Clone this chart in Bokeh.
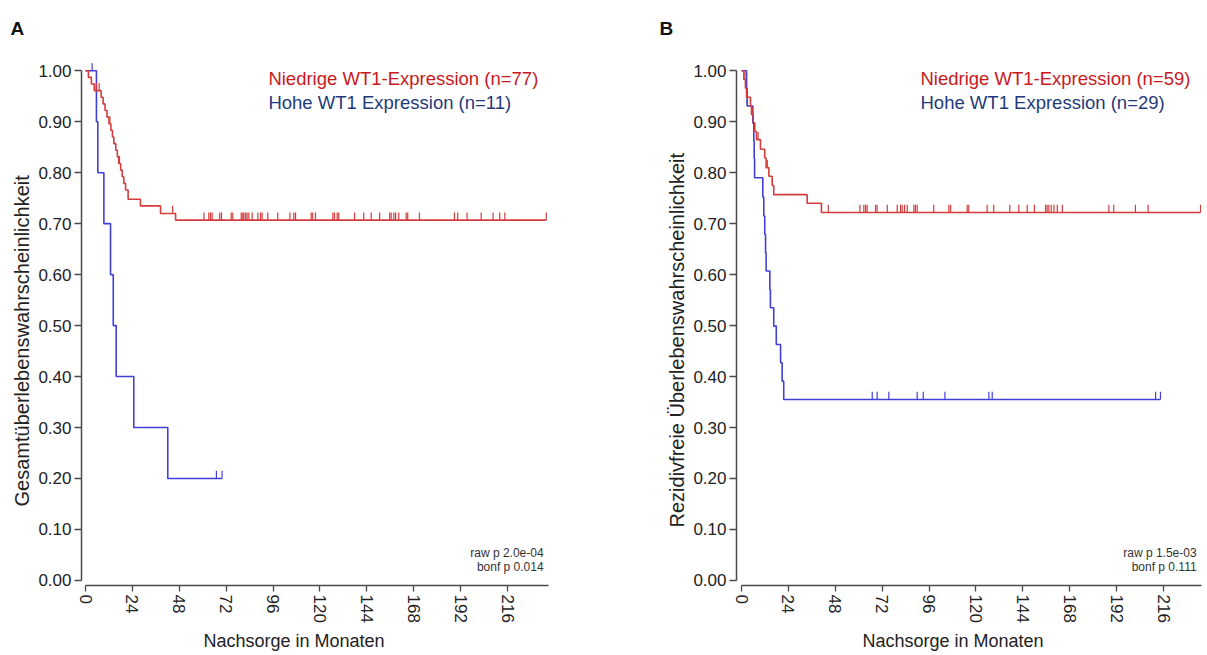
import numpy as np
from bokeh.plotting import figure
from bokeh.layouts import row
from bokeh.models import FixedTicker, PrintfTickFormatter, Label, Range1d, Title
from bokeh.embed import file_html
from bokeh.resources import INLINE

# ---------------- Panel A : Gesamtüberleben ----------------
a_low_times = [1.5, 3.0, 4.5, 8.0, 9.0, 10.0, 11.0, 12.0, 13.0, 13.8, 14.5,
               15.5, 16.3, 17.0, 18.0, 18.8, 19.6, 20.5, 21.8, 28.1, 38.4, 46.1]
a_low_surv = [0.987, 0.974, 0.961, 0.948, 0.935, 0.922, 0.909, 0.896, 0.883,
              0.870, 0.857, 0.844, 0.831, 0.818, 0.805, 0.792, 0.779, 0.766,
              0.748, 0.735, 0.720, 0.707]
a_low_censor = [5.5, 7.0, 12.5, 17.4, 44.6,
                60.6, 63.1, 64.0, 64.8, 68.7, 69.6, 74.6, 75.4, 79.7, 80.5,
                81.0, 81.9, 82.7, 83.6, 85.3, 88.2, 89.6, 90.4, 93.3, 98.4,
                104.6, 106.6, 107.5, 115.5, 116.3, 117.7, 126.6, 127.4, 128.8,
                129.6, 137.7, 142.4, 146.2, 150.5, 155.7, 156.4, 157.8, 158.7,
                160.3, 164.1, 164.9, 170.9, 188.8, 190.5, 195.3, 202.5, 208.6,
                212.0, 214.6, 235.8]
a_high_times = [5.6, 6.3, 9.4, 12.8, 14.2, 15.7, 24.7, 42.1]
a_high_surv = [0.9, 0.8, 0.7, 0.6, 0.5, 0.4, 0.3, 0.2]
a_high_censor = [3.4, 67.0, 69.9]

# ---------------- Panel B : Rezidivfreies Überleben ----------------
b_low_times = [1.2, 2.0, 2.6, 4.6, 5.1, 6.0, 6.8, 7.7, 9.7, 11.9, 12.6, 14.0,
               15.7, 16.5, 33.6, 40.9]
b_low_surv = [0.983, 0.966, 0.948, 0.931, 0.914, 0.898, 0.881, 0.865, 0.846,
              0.829, 0.810, 0.793, 0.775, 0.757, 0.740, 0.722]
b_low_censor = [1.8, 5.5, 8.5, 13.2,
                44.4, 60.6, 62.6, 63.5, 64.3, 68.6, 69.4, 74.6, 79.7, 81.4,
                82.2, 83.4, 84.8, 88.2, 89.0, 89.9, 98.4, 106.1, 107.0, 115.5,
                116.3, 125.7, 129.1, 137.3, 141.9, 146.2, 149.9, 155.6, 156.4,
                157.3, 158.5, 159.9, 161.6, 164.2, 188.0, 190.5, 201.6, 208.1,
                234.9]
b_high_times = [2.6, 2.9, 5.8, 6.3, 6.5, 6.7, 10.9, 11.4, 11.9, 12.3, 12.6,
                14.5, 14.8, 16.5, 17.8, 20.0, 20.8, 21.6]
b_high_surv = [0.966, 0.931, 0.897, 0.862, 0.828, 0.790, 0.752, 0.715, 0.679,
               0.643, 0.607, 0.571, 0.535, 0.499, 0.463, 0.427, 0.391, 0.355]
b_high_censor = [3.0, 66.9, 69.4, 75.4, 89.9, 93.0, 104.1, 126.6, 128.3,
                 211.9, 214.4]

x_ticks = [0, 24, 48, 72, 96, 120, 144, 168, 192, 216]
y_ticks = [0.0, 0.1, 0.2, 0.3, 0.4, 0.5, 0.6, 0.7, 0.8, 0.9, 1.0]

RED = "#d43c3c"
BLUE = "#4141d9"
RED_TXT = "#c8191e"
BLUE_TXT = "#1f3a7a"
FONT = "Liberation Sans"
AX = "#4a4a4a"
TXT = "#222222"
PX_PER_MONTH = 1.954
HEIGHT = 655
TOP = 55
FRAME_H = 530


def surv_at(t, times, surv):
    idx = np.searchsorted(np.asarray(times), t, side="right") - 1
    return 1.0 if idx < 0 else surv[idx]


def draw_curve(p, times, surv, censor, color):
    end = max(max(censor), max(times))
    xs = [0.0] + list(times) + [end]
    ys = [1.0] + list(surv) + [surv[-1]]
    p.step(xs, ys, mode="after", line_color=color, line_width=1.6)
    cy = [surv_at(t, times, surv) for t in censor]
    p.segment(x0=censor, y0=cy, x1=censor, y1=[v + 0.015 for v in cy],
              line_color=color, line_width=1.2)


def make_panel(width, left_border, x_start, x_end, letter, letter_dx,
               xlabel_dx, ylabel_dy, legend_x, ylabel, low, high,
               n_low, n_high, praw, pbonf):
    frame_w = int(round((x_end - x_start) * PX_PER_MONTH))
    p = figure(width=width, height=HEIGHT, output_backend="svg",
               toolbar_location=None,
               x_range=Range1d(x_start, x_end), y_range=Range1d(-0.01, 1.03),
               min_border_left=left_border,
               min_border_right=width - left_border - frame_w,
               min_border_top=TOP, min_border_bottom=HEIGHT - TOP - FRAME_H)
    p.outline_line_color = None
    p.xgrid.visible = False
    p.ygrid.visible = False
    p.background_fill_color = "white"
    p.border_fill_color = "white"

    draw_curve(p, *high, BLUE)
    draw_curve(p, *low, RED)

    for ax in (p.xaxis[0], p.yaxis[0]):
        ax.axis_line_color = AX
        ax.axis_line_width = 1.5
        ax.major_tick_line_color = AX
        ax.major_tick_line_width = 1.3
        ax.minor_tick_line_color = None
        ax.major_tick_in = 0
        ax.major_label_text_font = FONT
        ax.major_label_text_font_size = "17px"
        ax.major_label_text_color = TXT

    p.xaxis.ticker = FixedTicker(ticks=x_ticks)
    p.xaxis.bounds = (0, x_end)
    p.xaxis.major_tick_out = 6
    p.xaxis.major_label_orientation = -np.pi / 2
    p.xaxis.major_label_standoff = 3

    p.yaxis.ticker = FixedTicker(ticks=y_ticks)
    p.yaxis.formatter = PrintfTickFormatter(format="%.2f")
    p.yaxis.bounds = (0, 1)
    p.yaxis.major_tick_out = 7
    p.yaxis.major_label_standoff = 3

    # y axis title (left of the tick labels)
    p.add_layout(Title(text=ylabel, align="left", offset=ylabel_dy, standoff=6,
                       text_font=FONT, text_font_size="20px",
                       text_font_style="normal", text_color=TXT), "left")

    # x axis title (below the tick labels)
    p.add_layout(Title(text="Nachsorge in Monaten", align="left",
                       offset=xlabel_dx, standoff=7, text_font=FONT,
                       text_font_size="18px", text_font_style="normal",
                       text_color=TXT), "below")

    # panel letter (title)
    p.title.text = letter
    p.title.align = "left"
    p.title.vertical_align = "top"
    p.title.offset = letter_dx
    p.title.standoff = 30
    p.title.text_font = FONT
    p.title.text_font_size = "19px"
    p.title.text_font_style = "bold"
    p.title.text_color = "#111111"

    # legend texts
    p.add_layout(Label(x=legend_x, y=0.985, text=f"Niedrige WT1-Expression (n={n_low})",
                       text_font=FONT, text_font_size="18.5px", text_color=RED_TXT,
                       text_baseline="middle", text_align="left"))
    p.add_layout(Label(x=legend_x, y=0.938, text=f"Hohe WT1 Expression (n={n_high})",
                       text_font=FONT, text_font_size="18.5px", text_color=BLUE_TXT,
                       text_baseline="middle", text_align="left"))

    # p-values
    p.add_layout(Label(x=x_end - 2.5, y=0.053, text=f"raw p {praw}",
                       text_font=FONT, text_font_size="12px", text_color="#333333",
                       text_baseline="middle", text_align="right"))
    p.add_layout(Label(x=x_end - 2.5, y=0.0255, text=f"bonf p {pbonf}",
                       text_font=FONT, text_font_size="12px", text_color="#333333",
                       text_baseline="middle", text_align="right"))
    return p


pa = make_panel(608, 81, -2.05, 236.95, "A", -71, 122, 79,
                93.6, "Gesamtüberlebenswahrscheinlichkeit",
                (a_low_times, a_low_surv, a_low_censor),
                (a_high_times, a_high_surv, a_high_censor),
                77, 11, "2.0e-04", "0.014")
pb = make_panel(599, 128, -2.56, 235.4, "B", -77, 126, 58,
                91.6, "Rezidivfreie Überlebenswahrscheinlichkeit",
                (b_low_times, b_low_surv, b_low_censor),
                (b_high_times, b_high_surv, b_high_censor),
                59, 29, "1.5e-03", "0.111")

layout = row(pa, pb)
open("out.html", "w").write(file_html(layout, INLINE))
